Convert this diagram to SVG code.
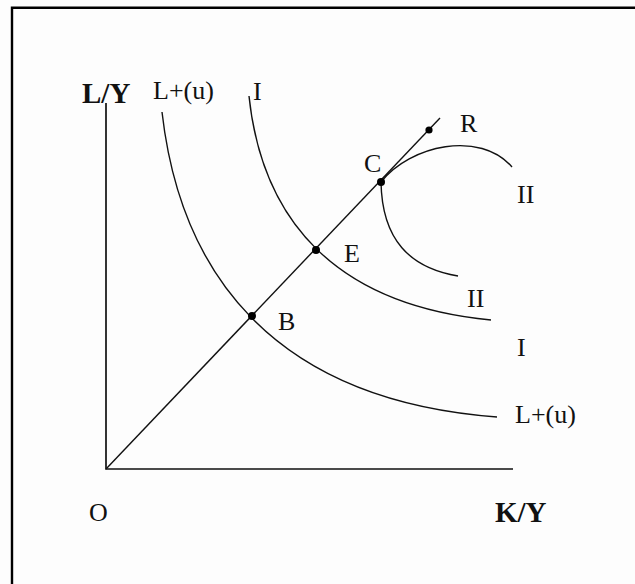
<svg xmlns="http://www.w3.org/2000/svg" width="635" height="584" viewBox="0 0 635 584">
<style>
.lbl{font-family:"Liberation Serif","Times New Roman",serif;font-size:26px;fill:#111}
.ax{font-family:"Liberation Serif","Times New Roman",serif;font-size:29px;font-weight:bold;fill:#111}
.ln{fill:none;stroke:#111;stroke-width:1.4}
.axis{fill:none;stroke:#111;stroke-width:1.7}
.dot{fill:#000}
</style>
<rect width="635" height="584" fill="#fdfdfd"/>
<path d="M12,584 V7.8 H635" fill="none" stroke="#000" stroke-width="2.4"/>
<g id="axes">
<path class="axis" d="M106,103 V469 H513"/>
<text class="ax" x="82" y="103">L/Y</text>
<text class="ax" x="495" y="522">K/Y</text>
<text class="lbl" x="89" y="521">O</text>
</g>
<g id="connectors">
<path class="ln" d="M106,469 L440,118"/>
<path id="curve-Lu" class="ln" d="M162,112 C180,270 270,400 497,417"/>
<path id="curve-I" class="ln" d="M249,96 C262,220 335,305 491,320"/>
<path id="curve-II-upper" class="ln" d="M381,182 C410,145 480,130 512,167"/>
<path id="curve-II-lower" class="ln" d="M381,182 C382,240 410,268 458,276"/>
</g>
<g id="node-B"><circle class="dot" cx="252" cy="316" r="4"/><text class="lbl" x="278" y="330">B</text></g>
<g id="node-E"><circle class="dot" cx="316" cy="250" r="4"/><text class="lbl" x="344" y="262">E</text></g>
<g id="node-C"><circle class="dot" cx="381" cy="182" r="4"/><text class="lbl" x="364" y="172">C</text></g>
<g id="node-R"><circle class="dot" cx="429" cy="130" r="3.6"/><text class="lbl" x="460" y="132">R</text></g>
<g id="labels">
<text class="lbl" x="153" y="99">L+(u)</text>
<text class="lbl" x="253" y="100">I</text>
<text class="lbl" x="517" y="203">II</text>
<text class="lbl" x="467" y="307">II</text>
<text class="lbl" x="517" y="356">I</text>
<text class="lbl" x="515" y="423">L+(u)</text>
</g>
</svg>
